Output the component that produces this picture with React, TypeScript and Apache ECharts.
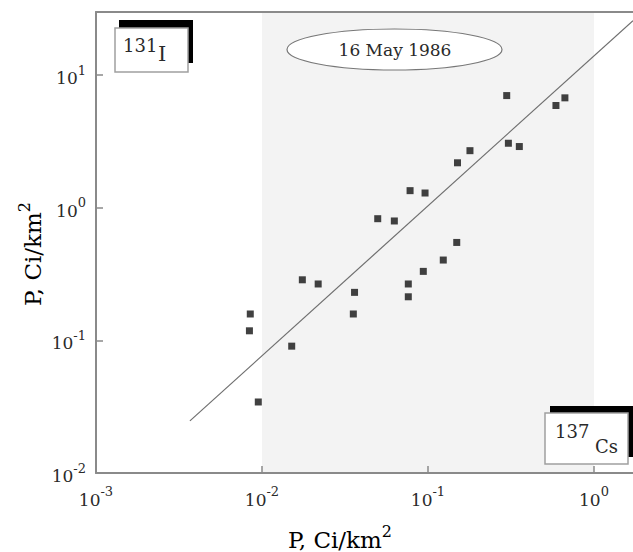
import { useEffect, useRef } from 'react';
import * as echarts from 'echarts';

// 137Cs deposition (x) vs 131I deposition (y), Ci/km2
const P_CS137 = [0.0085, 0.0084, 0.0095, 0.0151, 0.0175, 0.0218, 0.0361, 0.0355, 0.0498, 0.0627, 0.078, 0.0761, 0.0761, 0.096, 0.0937, 0.1236, 0.149, 0.1506, 0.179, 0.298, 0.305, 0.355, 0.59, 0.668];
const P_I131 = [0.158, 0.118, 0.0343, 0.0904, 0.286, 0.266, 0.23, 0.158, 0.826, 0.794, 1.344, 0.266, 0.213, 1.29, 0.331, 0.403, 0.547, 2.18, 2.69, 7.0, 3.06, 2.89, 5.89, 6.73];

// regression line end points
const FIT_CS137 = [0.00368, 1.718];
const FIT_I131 = [0.0247, 25.7];

const X_MIN = 0.001;
const X_MAX = 1.718;
const Y_MIN = 0.01;
const Y_MAX = 29.86;
const BAND = [0.01, 1];

const DATE_LABEL = '16 May 1986';
const AXIS_NAME = 'P, Ci/km';
const ISO_Y = ['131', 'I'];
const ISO_X = ['137', 'Cs'];

const FONT = 'DejaVu Serif';
const TEXT = '#2a2a2a';
const AXIS = '#8a8a8a';

const tickRich = {
  b: { fontSize: 17, fontFamily: FONT, color: TEXT, verticalAlign: 'bottom' },
  s: { fontSize: 13, fontFamily: FONT, color: TEXT, verticalAlign: 'bottom', padding: [0, 0, 10, 0] },
};
const nameRich = {
  b: { fontSize: 23, fontFamily: FONT, color: TEXT, verticalAlign: 'bottom' },
  s: { fontSize: 16, fontFamily: FONT, color: TEXT, verticalAlign: 'bottom', padding: [0, 0, 12, 0] },
};

const powLabel = (v: number) => {
  const l = Math.log10(v);
  const e = Math.round(l);
  if (Math.abs(l - e) > 1e-6) return '';
  return `{b|10}{s|${e}}`;
};

export default function App() {
  const ref = useRef<HTMLDivElement>(null);
  useEffect(() => {
    if (!ref.current) return;
    const chart = echarts.init(ref.current, null, { renderer: 'svg' });
    const points = P_CS137.map((x, i) => [x, P_I131[i]]);
    const fit = FIT_CS137.map((x, i) => [x, FIT_I131[i]]);
    chart.setOption({
      animation: false,
      backgroundColor: '#ffffff',
      grid: { left: 96, right: 0, top: 12, bottom: 79 },
      xAxis: [
        {
          type: 'log',
          logBase: 10,
          min: X_MIN,
          max: X_MAX,
          axisLine: { show: true, lineStyle: { color: AXIS, width: 2 } },
          axisTick: { show: true, inside: true, length: 7, lineStyle: { color: AXIS, width: 1.5 } },
          axisLabel: { margin: 12, formatter: powLabel, rich: tickRich, showMaxLabel: false },
          splitLine: { show: false },
          minorTick: { show: false },
        },
        {
          type: 'log',
          logBase: 10,
          position: 'top',
          min: X_MIN,
          max: X_MAX,
          axisLine: { show: true, lineStyle: { color: AXIS, width: 2 } },
          axisTick: { show: false },
          axisLabel: { show: false },
          splitLine: { show: false },
        },
      ],
      yAxis: {
        type: 'log',
        logBase: 10,
        min: Y_MIN,
        max: Y_MAX,
        axisLine: { show: true, lineStyle: { color: AXIS, width: 2 } },
        axisTick: { show: true, inside: true, length: 7, lineStyle: { color: AXIS, width: 1.5 } },
        axisLabel: { margin: 10, formatter: powLabel, rich: tickRich, showMaxLabel: false },
        splitLine: { show: false },
      },
      series: [
        {
          type: 'line',
          data: fit,
          showSymbol: false,
          symbol: 'none',
          lineStyle: { color: '#6f6f6f', width: 1.2 },
          z: 3,
          markArea: {
            silent: true,
            itemStyle: { color: '#f3f3f3' },
            data: [[{ xAxis: BAND[0], yAxis: Y_MIN }, { xAxis: BAND[1], yAxis: Y_MAX }]],
            z: 0,
          },
        },
        {
          type: 'scatter',
          data: points,
          symbol: 'rect',
          symbolSize: 7,
          itemStyle: { color: '#111111' },
          z: 4,
        },
      ],
      graphic: [
        // y axis name
        {
          type: 'text',
          x: 30,
          y: 254,
          rotation: Math.PI / 2,
          style: { text: `{b|${AXIS_NAME}}{s|2}`, rich: nameRich, align: 'center', verticalAlign: 'middle' },
        },
        // x axis name
        {
          type: 'text',
          x: 340,
          y: 537,
          style: { text: `{b|${AXIS_NAME}}{s|2}`, rich: nameRich, align: 'center', verticalAlign: 'middle' },
        },
        // 131I box
        { type: 'rect', shape: { x: 119, y: 20, width: 74, height: 43 }, style: { fill: '#000' }, z: 10 },
        { type: 'rect', shape: { x: 115, y: 28, width: 73, height: 44 }, style: { fill: '#fff', stroke: '#a0a0a0', lineWidth: 1.5 }, z: 11 },
        { type: 'text', x: 123, y: 45, z: 12, style: { text: ISO_Y[0], fontFamily: FONT, fontSize: 18, fill: TEXT, align: 'left', verticalAlign: 'middle' } },
        { type: 'text', x: 158, y: 54, z: 12, style: { text: ISO_Y[1], fontFamily: FONT, fontSize: 21, fill: TEXT, align: 'left', verticalAlign: 'middle' } },
        // 137Cs box
        { type: 'rect', shape: { x: 550, y: 406, width: 83, height: 51 }, style: { fill: '#000' }, z: 10 },
        { type: 'rect', shape: { x: 545, y: 413, width: 83, height: 51 }, style: { fill: '#fff', stroke: '#a0a0a0', lineWidth: 1.5 }, z: 11 },
        { type: 'text', x: 555, y: 431, z: 12, style: { text: ISO_X[0], fontFamily: FONT, fontSize: 18, fill: TEXT, align: 'left', verticalAlign: 'middle' } },
        { type: 'text', x: 595, y: 446, z: 12, style: { text: ISO_X[1], fontFamily: FONT, fontSize: 18, fill: TEXT, align: 'left', verticalAlign: 'middle' } },
        // date ellipse
        { type: 'ellipse', shape: { cx: 394.5, cy: 49.5, rx: 107.5, ry: 20.5 }, style: { fill: '#fff', stroke: '#777', lineWidth: 1.2 }, z: 10 },
        { type: 'text', x: 395, y: 50, z: 11, style: { text: DATE_LABEL, fontFamily: FONT, fontSize: 17, fill: TEXT, align: 'center', verticalAlign: 'middle' } },
      ],
    });
    return () => chart.dispose();
  }, []);
  return <div ref={ref} style={{ position: 'absolute', left: 0, top: 0, width: 633, height: 552 }} />;
}
